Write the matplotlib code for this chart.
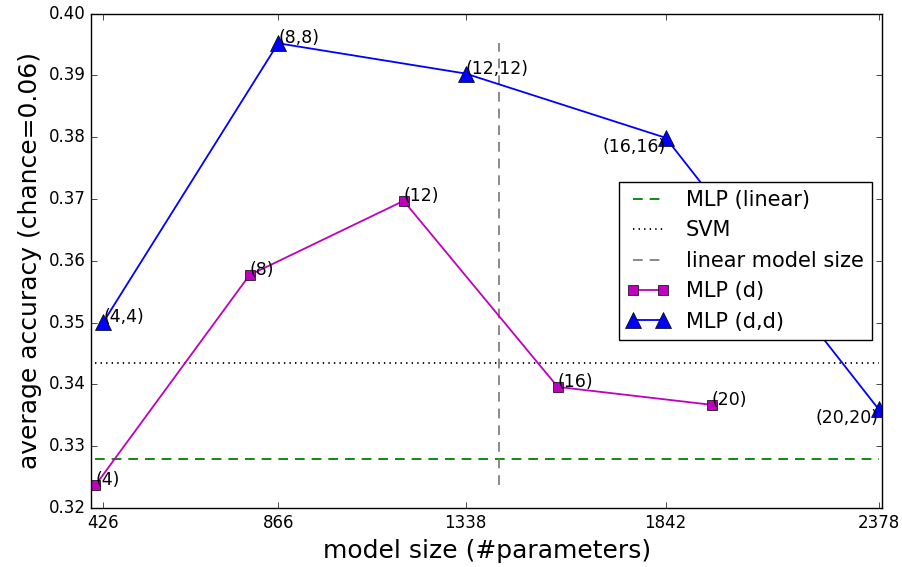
import matplotlib
matplotlib.use('Agg')
import matplotlib.pyplot as plt

plt.style.use('classic')

# tamaños de modelo (#parametros) y precision media
d_sizes = [4, 8, 12, 16, 20]
params_d = [406, 794, 1182, 1570, 1958]
acc_d = [0.3237, 0.3577, 0.3697, 0.3396, 0.3367]
params_dd = [426, 866, 1338, 1842, 2378]
acc_dd = [0.3501, 0.3952, 0.3903, 0.3799, 0.3360]

acc_linear = 0.3280
acc_svm = 0.3434
linear_size = 1422

labels_d = ['(%d)' % d for d in d_sizes]
labels_dd = ['(%d,%d)' % (d, d) for d in d_sizes]

fig = plt.figure(figsize=(9.02, 5.67), dpi=100, facecolor='white')
ax = fig.add_subplot(111)
fig.subplots_adjust(left=0.101, right=0.978, bottom=0.104, top=0.976)

xmin, xmax = params_d[0], params_dd[-1]
ax.plot([xmin, xmax], [acc_linear, acc_linear], 'g--', lw=1.3, dashes=(7, 5),
        label='MLP (linear)')
ax.plot([xmin, xmax], [acc_svm, acc_svm], 'k:', lw=1.3, label='SVM')
ymin = min(acc_d + acc_dd)
ymax = max(acc_d + acc_dd)
ax.plot([linear_size, linear_size], [ymin, ymax], '--', color='gray', lw=1.3,
        dashes=(7, 5), label='linear model size')

ax.plot(params_d, acc_d, 'm-s', lw=1.3, markersize=7.5, label='MLP (d)')
ax.plot(params_dd, acc_dd, 'b-^', lw=1.3, markersize=12, label='MLP (d,d)')

# etiquetas de cada punto
for x, y, t in zip(params_d, acc_d, labels_d):
    ax.annotate(t, (x, y), fontsize=12.5)
for i, (x, y, t) in enumerate(zip(params_dd, acc_dd, labels_dd)):
    if i >= 3:
        ax.annotate(t, (x, y), fontsize=12.5, ha='right', va='top')
    else:
        ax.annotate(t, (x, y), fontsize=12.5)

ax.set_xlim(395, 2387)
ax.set_ylim(0.32, 0.40)
ax.set_xticks(params_dd)
ax.set_xticklabels([str(p) for p in params_dd])
ax.tick_params(labelsize=12)

ax.set_xlabel('model size (#parameters)', fontsize=18)
ax.set_ylabel('average accuracy (chance=0.06)', fontsize=18)

ax.legend(loc='center right', fontsize=15)

plt.savefig('out.png', dpi=100, facecolor='white')
